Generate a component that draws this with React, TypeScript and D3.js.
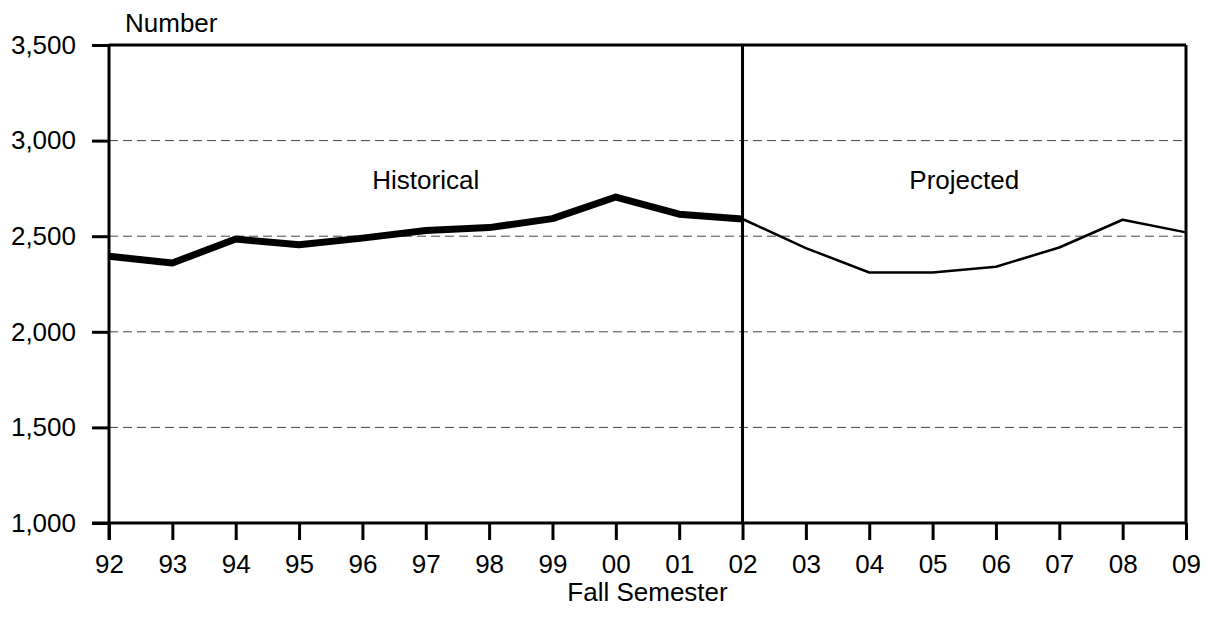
import React, { useEffect, useRef } from 'react';
import * as d3 from 'd3';

// fall semester labels (two-digit years)
const years = ['92', '93', '94', '95', '96', '97', '98', '99', '00', '01', '02', '03', '04', '05', '06', '07', '08', '09'];
const historical = [2395, 2360, 2485, 2455, 2490, 2530, 2545, 2592, 2705, 2615, 2590];
const projected = [2590, 2438, 2310, 2310, 2340, 2441, 2586, 2520];
const yTicks = [1000, 1500, 2000, 2500, 3000, 3500];
const gridValues = [1500, 2000, 2500, 3000];
const splitYear = '02';

const App: React.FC = () => {
    const ref = useRef<SVGSVGElement | null>(null);

    useEffect(() => {
        if (!ref.current) return;
        const width = 1206;
        const height = 632;
        const margin = { top: 45, right: 20, bottom: 109, left: 109 };
        const font = '"Liberation Sans", Arial, Helvetica, sans-serif';
        const fs = '26px';

        const svg = d3.select(ref.current);
        svg.selectAll('*').remove();
        svg.attr('width', width).attr('height', height);

        const x = d3.scalePoint<string>()
            .domain(years)
            .range([margin.left, width - margin.right]);
        const y = d3.scaleLinear()
            .domain([1000, 3500])
            .range([523, margin.top]);

        const x0 = x(years[0])!;
        const x1 = x(years[years.length - 1])!;
        const yBottom = y(1000);
        const yTop = y(3500);

        // dashed gridlines
        svg.append('g')
            .selectAll('line')
            .data(gridValues)
            .enter()
            .append('line')
            .attr('x1', x0)
            .attr('x2', x1)
            .attr('y1', d => y(d))
            .attr('y2', d => y(d))
            .attr('stroke', '#444')
            .attr('stroke-width', 1)
            .attr('stroke-dasharray', '9,5');

        // frame
        const frame = svg.append('g').attr('stroke', '#000').attr('stroke-width', 3).attr('fill', 'none');
        frame.append('line').attr('x1', x0).attr('x2', x1).attr('y1', yTop).attr('y2', yTop);
        frame.append('line').attr('x1', x1).attr('x2', x1).attr('y1', yTop).attr('y2', yBottom);

        // Y axis
        const yAxis = svg.append('g')
            .attr('transform', `translate(${x0},0)`)
            .call(d3.axisLeft(y).tickValues(yTicks).tickSize(17).tickPadding(16).tickFormat(d3.format(',')));
        yAxis.select('.domain').attr('stroke-width', 3).attr('d', `M0,${yTop}V${yBottom + 17}`);
        yAxis.selectAll('.tick line').attr('stroke-width', 3);
        yAxis.selectAll('.tick text').style('font-family', font).style('font-size', fs).attr('fill', '#000');

        // X axis
        const xAxis = svg.append('g')
            .attr('transform', `translate(0,${yBottom})`)
            .call(d3.axisBottom(x).tickSize(17).tickPadding(15));
        xAxis.select('.domain').attr('stroke-width', 3).attr('d', `M${x0 - 17},0H${x1}`);
        xAxis.selectAll('.tick line').attr('stroke-width', 3);
        xAxis.selectAll('.tick text').style('font-family', font).style('font-size', fs).attr('fill', '#000');

        // divider between historical and projected
        svg.append('line')
            .attr('x1', x(splitYear)!)
            .attr('x2', x(splitYear)!)
            .attr('y1', yTop)
            .attr('y2', yBottom)
            .attr('stroke', '#000')
            .attr('stroke-width', 3);

        const line = d3.line<number>().x((d, i) => x(years[i])!).y(d => y(d));
        const lineProj = d3.line<number>()
            .x((d, i) => x(years[i + historical.length - 1])!)
            .y(d => y(d));

        svg.append('path')
            .datum(projected)
            .attr('fill', 'none')
            .attr('stroke', '#000')
            .attr('stroke-width', 2.5)
            .attr('stroke-linejoin', 'round')
            .attr('d', lineProj);

        svg.append('path')
            .datum(historical)
            .attr('fill', 'none')
            .attr('stroke', '#000')
            .attr('stroke-width', 7)
            .attr('stroke-linejoin', 'round')
            .attr('d', line);

        // labels
        const label = (t: string, lx: number, ly: number, anchor: string) =>
            svg.append('text')
                .attr('x', lx)
                .attr('y', ly)
                .attr('text-anchor', anchor)
                .style('font-family', font)
                .style('font-size', fs)
                .attr('fill', '#000')
                .text(t);

        label('Number', 125, 32, 'start');
        label('Historical', (x0 + x(splitYear)!) / 2, 189, 'middle');
        label('Projected', (x(splitYear)! + x1) / 2, 189, 'middle');
        label('Fall Semester', (x0 + x1) / 2, 601, 'middle');
    }, []);

    return <svg ref={ref} style={{ position: 'absolute', left: 0, top: 0 }} />;
};

export default App;
